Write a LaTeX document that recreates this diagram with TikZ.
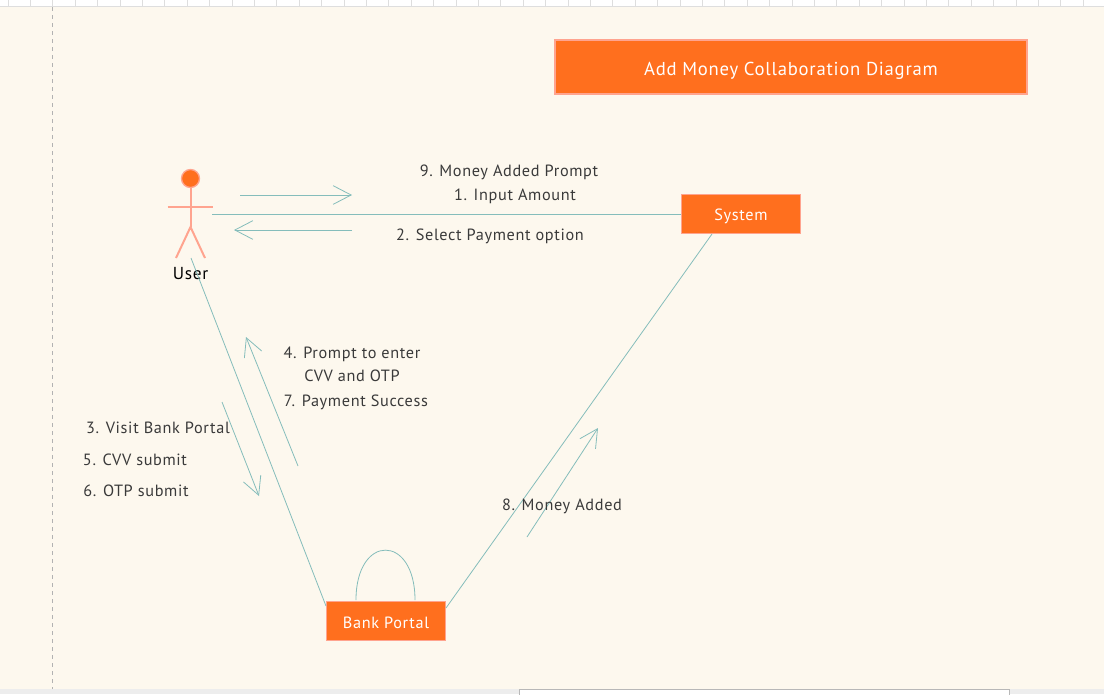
\documentclass[tikz,border=0pt]{standalone}
\usepackage{fontspec}
\setmainfont[LetterSpace=4]{PT Sans}
\usetikzlibrary{arrows.meta}
\definecolor{pagebg}{HTML}{FDF8EE}
\definecolor{orangefill}{HTML}{FF6F1E}
\definecolor{orangeedge}{HTML}{FFA48F}
\definecolor{linkc}{HTML}{85BDBB}
\definecolor{rulerc}{HTML}{DEDEDE}
\definecolor{labelc}{HTML}{3A3A3A}
\tikzset{
  x=0.75pt,y=-0.75pt,
  box/.style={draw=orangeedge,fill=orangefill,line width=1.2pt,text=white,inner sep=0pt,align=center,text depth=0pt,font=\fontsize{12.2pt}{14pt}\selectfont},
  link/.style={draw=linkc,line width=0.6pt},
  msg/.style={link,-{Straight Barb[length=13.5pt,width=14pt,line width=0.6pt]}},
  lbl/.style={text=labelc,inner sep=0pt,font=\fontsize{12.2pt}{14pt}\selectfont,align=center},
  actorline/.style={draw=orangeedge,line width=1.5pt},
}
\begin{document}
\begin{tikzpicture}
\useasboundingbox (0,0) rectangle (1104,694);
\fill[pagebg] (0,0) rectangle (1104,694);
% ruler
\fill[white] (0,0) rectangle (1104,6);
\draw[rulerc,line width=0.8pt] (0,6.5) -- (1104,6.5);
\foreach \i in {0,...,49} \draw[rulerc,line width=0.6pt] ({8+22.4*\i},0) -- ({8+22.4*\i},6);
% margin line
\draw[draw=gray!60,dashed,line width=0.6pt] (52.5,7) -- (52.5,689);
% bottom bar
\fill[black!7] (0,689) rectangle (1104,694);
\draw[draw=black!28,fill=white,line width=0.6pt] (519.5,689.5) rectangle (1009.5,696);
% title
\node[box,minimum width=354pt,minimum height=40.5pt,text height=12pt,font=\fontsize{14pt}{16pt}\selectfont] (title) at (791,67) {Add Money Collaboration Diagram};
% nodes
\node[box,minimum width=89pt,minimum height=29pt,text height=10pt] (system) at (741,214) {System};
\node[box,minimum width=89pt,minimum height=29pt,text height=10.5pt] (bank) at (386,621) {Bank Portal};
% actor
\node[circle,draw=orangeedge,fill=orangefill,line width=1pt,minimum size=13.5pt,inner sep=0pt] (head) at (190.5,178.5) {};
\coordinate (hip) at (190.5,227);
\coordinate (armL) at (167.5,206.5);
\coordinate (armR) at (212.5,206.5);
\coordinate (footL) at (176,258);
\coordinate (footR) at (205,258);
\draw[actorline] (head) -- (hip);
\draw[actorline] (armL) -- (armR);
\draw[actorline] (footL) -- (hip) -- (footR);
\node[inner sep=0pt,font=\fontsize{13pt}{15pt}\selectfont,text=black] (user) at (190.5,274) {User};
% connectors
\coordinate (uA) at (212,214);
\coordinate (uB) at (191,258);
\draw[link] (uA) -- (system.west |- uA);
\coordinate (bankL) at (326,606);
\coordinate (bankR) at (446,608);
\coordinate (sysB) at (712,234);
\draw[link] (uB) -- (bankL);
\draw[link] (bankR) -- (sysB);
\coordinate (loopA) at (356,600);
\coordinate (loopB) at (415,600);
\draw[link] (loopA) .. controls (356,533.5) and (415,533.5) .. (loopB);
% message arrows
\coordinate (m1a) at (240,195); \coordinate (m1b) at (352,195);
\coordinate (m2a) at (352,230); \coordinate (m2b) at (234,230);
\coordinate (m3a) at (298,466); \coordinate (m3b) at (246,337);
\coordinate (m4a) at (222,402); \coordinate (m4b) at (259,496);
\coordinate (m5a) at (527,537); \coordinate (m5b) at (598,428);
\draw[msg] (m1a) -- (m1b);
\draw[msg] (m2a) -- (m2b);
\draw[msg] (m3a) -- (m3b);
\draw[msg] (m4a) -- (m4b);
\draw[msg] (m5a) -- (m5b);
% labels
\node[lbl] (l9) at (509,172) {9. Money Added Prompt};
\node[lbl] (l1) at (515,196) {1. Input Amount};
\node[lbl] (l2) at (490,236) {2. Select Payment option};
\node[lbl] (l4a) at (352,354) {4. Prompt to enter};
\node[lbl] (l4b) at (352,376) {CVV and OTP};
\node[lbl] (l7) at (356,402) {7. Payment Success};
\node[lbl] (l3) at (158,428) {3. Visit Bank Portal};
\node[lbl] (l5) at (135,460) {5. CVV submit};
\node[lbl] (l6) at (136,491) {6. OTP submit};
\node[lbl] (l8) at (562,506) {8. Money Added};
\end{tikzpicture}
\end{document}
